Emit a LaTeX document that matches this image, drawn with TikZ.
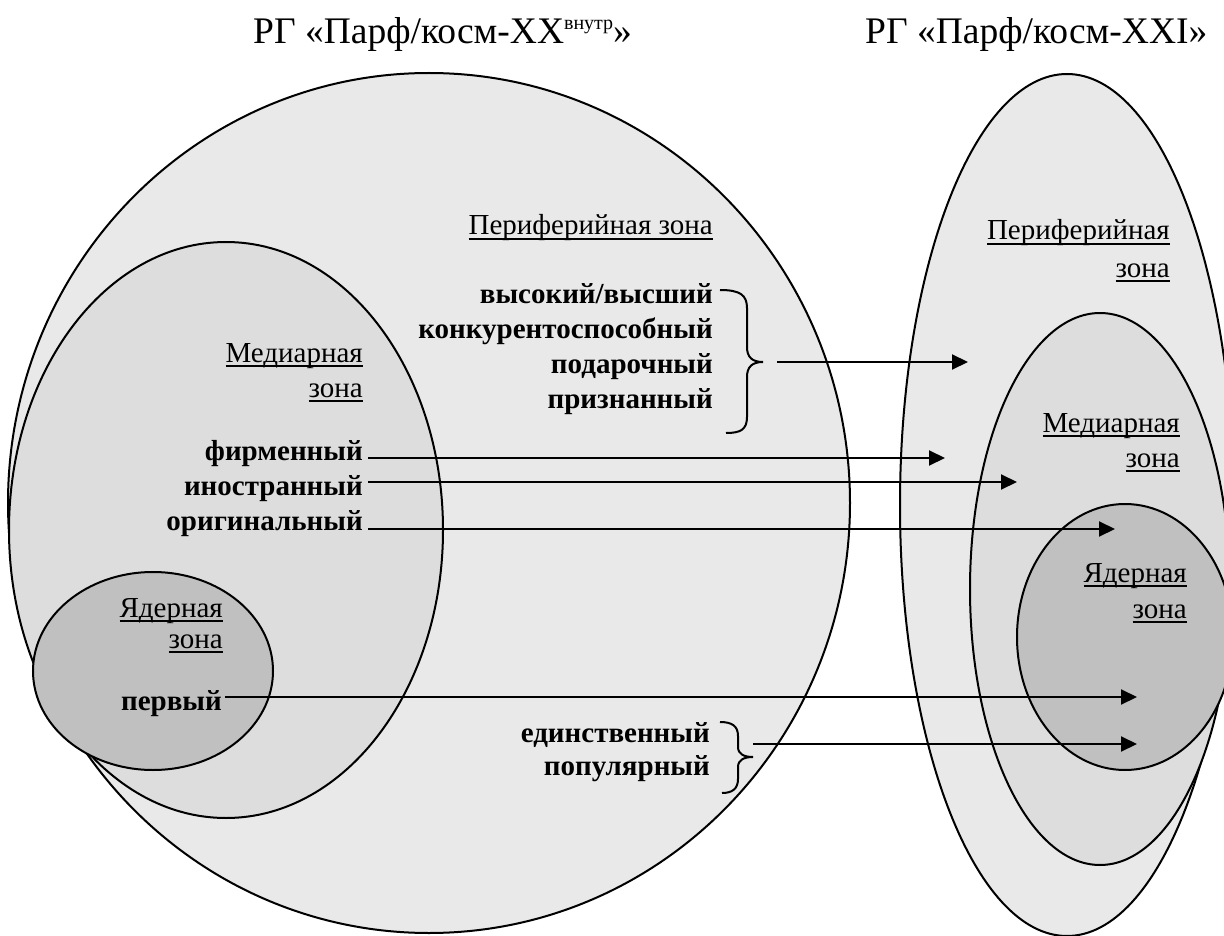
\documentclass[tikz,border=0pt]{standalone}
\usepackage{fontspec}
\setmainfont{Liberation Serif}
\usetikzlibrary{arrows.meta,shapes.geometric}
\definecolor{peri}{RGB}{233,233,233}
\definecolor{med}{RGB}{221,221,221}
\definecolor{core}{RGB}{192,192,192}
\newcommand\zul[1]{{\setbox0\hbox{#1}\rlap{\rule[-5pt]{\wd0}{1.8pt}}\box0}}
\begin{document}
\begin{tikzpicture}[x=1pt,y=-1pt,
  zone/.style={ellipse,draw=black,line width=2pt,inner sep=0pt,outer sep=0pt},
  lbl/.style={inner sep=0pt,anchor=base east,font=\fontsize{29}{35}\selectfont},
  blbl/.style={inner sep=0pt,anchor=base east,font=\fontsize{29}{35}\selectfont\bfseries},
  ttl/.style={inner sep=0pt,anchor=base west,font=\fontsize{37.5}{42}\selectfont},
  arr/.style={line width=2pt,-{Triangle[length=16pt,width=15pt]}},
  brc/.style={line width=2pt}]
\useasboundingbox (0,0) rectangle (1224,936);
\clip (0,0) rectangle (1224,936);
% zones
\node[zone,fill=peri,minimum width=842pt,minimum height=860pt] (LP) at (429,503) {};
\node[zone,fill=med,minimum width=434pt,minimum height=576pt] (LM) at (226,530) {};
\node[zone,fill=core,minimum width=240pt,minimum height=198pt] (LC) at (153,671) {};
\node[zone,fill=peri,minimum width=334pt,minimum height=862pt] (RP) at (1067,505) {};
\node[zone,fill=med,minimum width=260pt,minimum height=552pt] (RM) at (1100,589) {};
\node[zone,fill=core,minimum width=216pt,minimum height=266pt] (RC) at (1125,637) {};
% titles
\node[ttl] (T1) at (253,44) {РГ «Парф/косм-XX\raisebox{14pt}{\fontsize{20}{20}\selectfont внутр}»};
\node[ttl] (T2) at (865,44) {РГ «Парф/косм-XXI»};
% left peripheral
\node[lbl] (pz) at (713,235) {\zul{Периферийная зона}};
\node[blbl] (b1) at (713,303) {высокий/высший};
\node[blbl] (b2) at (713,338) {конкурентоспособный};
\node[blbl] (b3) at (713,373) {подарочный};
\node[blbl] (b4) at (713,408) {признанный};
\draw[brc] (720,290) .. controls (740,290) and (747,295) .. (747,308) -- (747,347)
  .. controls (747,357) and (752,362) .. (763,362)
  .. controls (752,362) and (747,367) .. (747,377) -- (747,417)
  .. controls (747,430) and (740,433) .. (726,433);
\coordinate (a1s) at (777,362);
\coordinate (a1e) at (968,362);
\draw[arr] (a1s) -- (a1e);
% left medial
\node[lbl] (lm1) at (363,362) {\zul{Медиарная}};
\node[lbl] (lm2) at (363,397) {\zul{зона}};
\node[blbl] (f1) at (363,460) {фирменный};
\node[blbl] (f2) at (363,495) {иностранный};
\node[blbl] (f3) at (363,530) {оригинальный};
\coordinate (s1) at (368,458); \coordinate (t1) at (945,458);
\coordinate (s2) at (368,482); \coordinate (t2) at (1017,482);
\coordinate (s3) at (368,529); \coordinate (t3) at (1115,529);
\draw[arr] (s1) -- (t1);
\draw[arr] (s2) -- (t2);
\draw[arr] (s3) -- (t3);
% left core
\node[lbl] (lc1) at (223,617) {\zul{Ядерная}};
\node[lbl] (lc2) at (223,648) {\zul{зона}};
\node[blbl] (p1) at (222,710) {первый};
\coordinate (s4) at (225,697); \coordinate (t4) at (1137,697);
\draw[arr] (s4) -- (t4);
% bottom group
\node[blbl] (u1) at (710,742) {единственный};
\node[blbl] (u2) at (710,775) {популярный};
\draw[brc] (720,722) .. controls (732,722) and (738,726) .. (738,736) -- (738,747)
  .. controls (738,754) and (744,757) .. (753,757)
  .. controls (744,757) and (738,760) .. (738,767) -- (738,779)
  .. controls (738,789) and (732,793) .. (722,793);
\coordinate (s5) at (753,744); \coordinate (t5) at (1137,744);
\draw[arr] (s5) -- (t5);
% right labels
\node[lbl] (rp1) at (1170,240) {\zul{Периферийная}};
\node[lbl] (rp2) at (1170,277) {\zul{зона}};
\node[lbl] (rm1) at (1180,432) {\zul{Медиарная}};
\node[lbl] (rm2) at (1180,467) {\zul{зона}};
\node[lbl] (rc1) at (1187,582) {\zul{Ядерная}};
\node[lbl] (rc2) at (1187,618) {\zul{зона}};
\end{tikzpicture}
\end{document}
